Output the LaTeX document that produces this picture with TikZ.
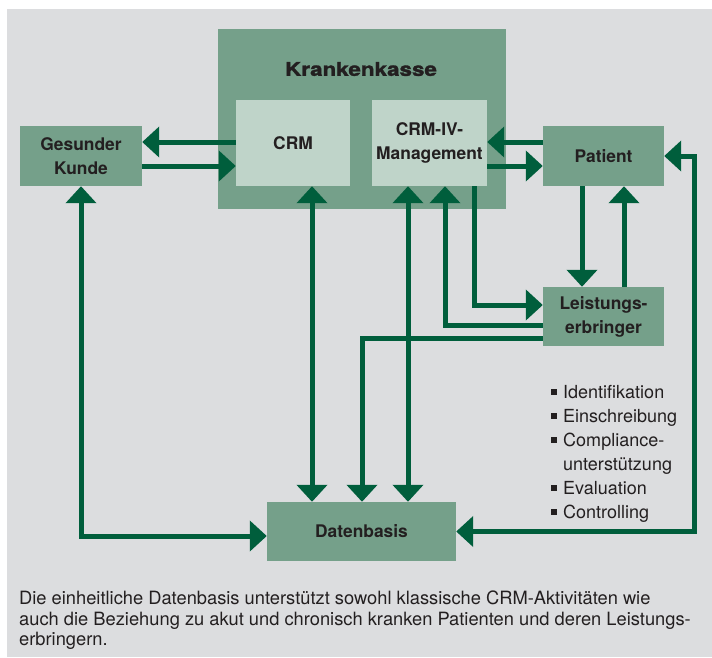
\documentclass[tikz,border=0pt]{standalone}
\usepackage{fontspec}
\setmainfont{TeX Gyre Heros}
\newfontfamily\heavyfont[BoldFeatures={FakeBold=1.5}]{TeX Gyre Heros}
\usepackage{graphicx}
\usetikzlibrary{arrows.meta}
\usetikzlibrary{positioning}
\definecolor{bggrey}{RGB}{220,221,223}
\definecolor{boxgreen}{RGB}{117,160,138}
\definecolor{lightgreen}{RGB}{191,212,201}
\definecolor{arrowgreen}{RGB}{0,94,60}
\definecolor{textdark}{RGB}{35,31,32}
\tikzset{
  tri/.tip={Triangle[width=30pt,length=17pt]},
}
\begin{document}
\begin{tikzpicture}[x=1pt,y=-1pt,
  box/.style={fill=boxgreen,inner sep=0pt,align=center,text=textdark,font=\fontsize{17.4}{24}\selectfont\bfseries},
  inbox/.style={box,fill=lightgreen},
  arr/.style={draw=arrowgreen,line width=5pt,-tri},
  dbl/.style={draw=arrowgreen,line width=5pt,tri-tri}]
  \useasboundingbox (0,0) rectangle (712,657);
  \fill[bggrey] (7,9) rectangle (712,657);
  \node[box,minimum width=288pt,minimum height=180pt] (kasse) at (362,119) {};
  \node[text=textdark,font=\fontsize{19}{22}\heavyfont\bfseries] (kassetitle) at (361,69) {\scalebox{1.18}[1]{Krankenkasse}};
  \node[inbox,minimum width=114pt,minimum height=86pt] (crm) at (293,143) {CRM};
  \node[inbox,minimum width=115pt,minimum height=86pt] (ivm) at (429.5,143) {CRM-IV-\\Management};
  \node[box,minimum width=122pt,minimum height=60pt] (kunde) at (81,156) {Gesunder\\Kunde};
  \node[box,minimum width=121pt,minimum height=60pt] (patient) at (603.5,156) {Patient};
  \node[box,minimum width=121pt,minimum height=59pt] (leist) at (603.5,316.5) {Leistungs-\\erbringer};
  \node[box,minimum width=189pt,minimum height=59pt] (daten) at (361.5,531.5) {Datenbasis};
  \node[anchor=north west,align=left,inner sep=0pt,text=textdark,font=\fontsize{18}{24}\selectfont] (liste) at (551,385)
    {\makebox[12pt][l]{\rule[3pt]{6pt}{6pt}}Identifikation\\
     \makebox[12pt][l]{\rule[3pt]{6pt}{6pt}}Einschreibung\\
     \makebox[12pt][l]{\rule[3pt]{6pt}{6pt}}Compliance-\\
     \hspace*{12pt}unterstützung\\
     \makebox[12pt][l]{\rule[3pt]{6pt}{6pt}}Evaluation\\
     \makebox[12pt][l]{\rule[3pt]{6pt}{6pt}}Controlling};
  \node[anchor=north west,align=left,inner sep=0pt,text=textdark,font=\fontsize{18.3}{20.5}\selectfont] (caption) at (19,591)
    {Die einheitliche Datenbasis unterstützt sowohl klassische CRM-Aktivitäten wie\\
     auch die Beziehung zu akut und chronisch kranken Patienten und deren Leistungs-\\
     erbringern.};
  \coordinate (yhi) at (0,142);
  \coordinate (ylo) at (0,166);
  \coordinate (c1) at (582,0);
  \coordinate (c2) at (624,0);
  \coordinate (c3) at (474,0);
  \coordinate (c4) at (445,0);
  \coordinate (c5) at (362,0);
  \coordinate (c6) at (312,0);
  \coordinate (c7) at (408,0);
  \coordinate (c8) at (694,0);
  \coordinate (r1) at (0,305);
  \coordinate (r2) at (0,325);
  \coordinate (r3) at (0,338);
  \coordinate (r4) at (0,536);
  \draw[arr] (crm.west |- yhi) -- (kunde.east |- yhi);
  \draw[arr] (kunde.east |- ylo) -- (crm.west |- ylo);
  \draw[arr] (patient.west |- yhi) -- (ivm.east |- yhi);
  \draw[arr] (ivm.east |- ylo) -- (patient.west |- ylo);
  \draw[arr] (c1 |- patient.south) -- (c1 |- leist.north);
  \draw[arr] (c2 |- leist.north) -- (c2 |- patient.south);
  \draw[arr] (c3 |- ivm.south) |- (leist.west |- r1);
  \draw[arr] (leist.west |- r2) -| (c4 |- ivm.south);
  \draw[arr] (leist.west |- r3) -| (c5 |- daten.north);
  \draw[dbl] (c6 |- crm.south) -- (c6 |- daten.north);
  \draw[dbl] (c7 |- ivm.south) -- (c7 |- daten.north);
  \draw[dbl] (kunde.south) |- (daten.west |- r4);
  \draw[dbl] (patient.east) -| (c8 |- daten.east) -- (daten.east);
\end{tikzpicture}
\end{document}
